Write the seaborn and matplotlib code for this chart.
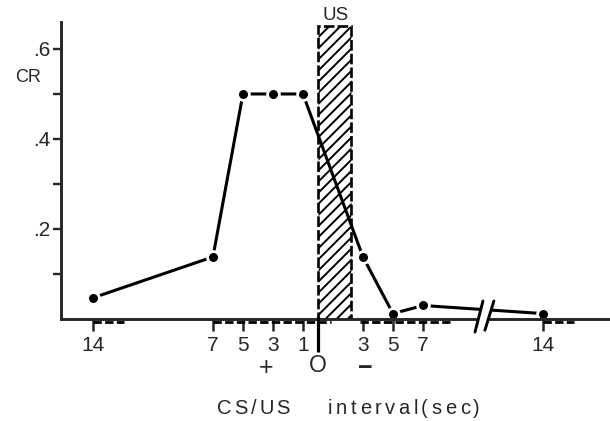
import numpy as np
import pandas as pd
import matplotlib
matplotlib.use("Agg")
import matplotlib.pyplot as plt
import seaborn as sns

# ---- data ----
# CS/US interval in seconds: positive = CS before US (+), negative = after (-)
intervals = [14, 7, 5, 3, 1, -3, -5, -7, -14]
cr_values = [0.047, 0.138, 0.50, 0.50, 0.50, 0.138, 0.012, 0.030, 0.012]
tick_intervals = [14, 7, 5, 3, 1, -3, -5, -7, -14]
tick_labels = ["14", "7", "5", "3", "1", "3", "5", "7", "14"]
y_ticks = [0.1, 0.2, 0.3, 0.4, 0.5, 0.6]
y_tick_labels = ["", ".2", "", ".4", "", ".6"]
us_duration = 2.2
us_height = 0.65


def axis_pos(t):
    """Broken axis: linear up to 7 s, compressed beyond."""
    t = np.asarray(t, dtype=float)
    a = np.abs(t)
    p = np.where(a <= 7, a, 7 + (a - 7) * 8 / 7)
    return -np.sign(t) * p


df = pd.DataFrame({"pos": axis_pos(intervals), "cr": cr_values})

sns.set_style("ticks")
plt.rcParams["font.family"] = ["Liberation Sans", "DejaVu Sans"]
plt.rcParams["hatch.linewidth"] = 1.4

W, H = 610, 421
fig = plt.figure(figsize=(6.1, 4.21), dpi=100)
ax = fig.add_axes([0.1, 0.2423, 0.9, 0.7055])

# US hatched bar
ax.bar([0], [us_height], width=us_duration, align="edge", fill=False,
       hatch="///", edgecolor="black", linewidth=1.9, linestyle=(0, (4, 1.2)),
       zorder=1)

sns.lineplot(data=df, x="pos", y="cr", ax=ax, color="black", linewidth=2.2,
             marker="o", markersize=8.5, markeredgecolor="white",
             markeredgewidth=2.0, markerfacecolor="black", zorder=3,
             sort=False)

ax.set_xlim(-17.13, 19.47)
ax.set_ylim(0, 0.66)

for s in ["top", "right"]:
    ax.spines[s].set_visible(False)
for s in ["left", "bottom"]:
    ax.spines[s].set_linewidth(2.1)
    ax.spines[s].set_zorder(4)

ax.set_xticks(axis_pos(tick_intervals))
ax.set_xticklabels(tick_labels, fontsize=15)
ax.set_yticks(y_ticks)
ax.set_yticklabels(y_tick_labels, fontsize=15)
ax.tick_params(axis="x", direction="out", length=8.5, width=1.8, pad=3.5)
ax.tick_params(axis="y", direction="out", length=5.5, width=1.7, pad=2)
ax.set_xlabel("")
ax.set_ylabel("")

# zero (US onset) long tick
ax.plot([0, 0], [0.006, -0.074], color="black", lw=2.3, clip_on=False,
        zorder=5, solid_capstyle="butt")

# dashed strips just under the axis
for x0, x1 in [(-15, -12.9), (-7, 0.9), (2.8, 8.8), (15, 17.1)]:
    ax.plot([x0, x1], [-0.0075, -0.0075], color="black", lw=2.0,
            dashes=(3, 1.2), clip_on=False, zorder=4)

# axis break marks
ax.fill([10.47, 11.13, 11.73, 11.0], [-0.029, -0.029, 0.040, 0.040],
        color="white", zorder=6, clip_on=False, lw=0)
ax.plot([10.47, 11.0], [-0.029, 0.040], color="black", lw=2.1,
        clip_on=False, zorder=7)
ax.plot([11.13, 11.73], [-0.025, 0.040], color="black", lw=2.1,
        clip_on=False, zorder=7)


def tracked_text(x0_px, x1_px, y_px, s, size):
    """Write s letter by letter so that it spans x0_px..x1_px."""
    renderer = fig.canvas.get_renderer()
    objs, widths = [], []
    for ch in s:
        t = fig.text(0, 1 - y_px / H, ch, fontsize=size, ha="left",
                     va="center")
        w = t.get_window_extent(renderer).width
        objs.append(t)
        widths.append(w)
    gap = (x1_px - x0_px - sum(widths)) / max(len(s) - 1, 1)
    x = x0_px
    for t, w in zip(objs, widths):
        t.set_x(x / W)
        x += w + gap


# texts
fig.text(336 / W, 1 - 15 / H, "US", fontsize=13.5, ha="center", va="center")
fig.text(28 / W, 1 - 77 / H, "CR", fontsize=13, ha="center", va="center")
fig.text(266 / W, 1 - 368 / H, "+", fontsize=18, ha="center", va="center")
fig.text(318 / W, 1 - 366 / H, "O", fontsize=16.5, ha="center", va="center")
fig.text(365 / W, 1 - 368 / H, "\u2212", fontsize=18, ha="center",
         va="center", fontweight="bold")
tracked_text(217, 290, 409, "CS/US", 14.5)
tracked_text(328, 480, 409, "interval(sec)", 14.5)

fig.savefig("out.png", dpi=100)
